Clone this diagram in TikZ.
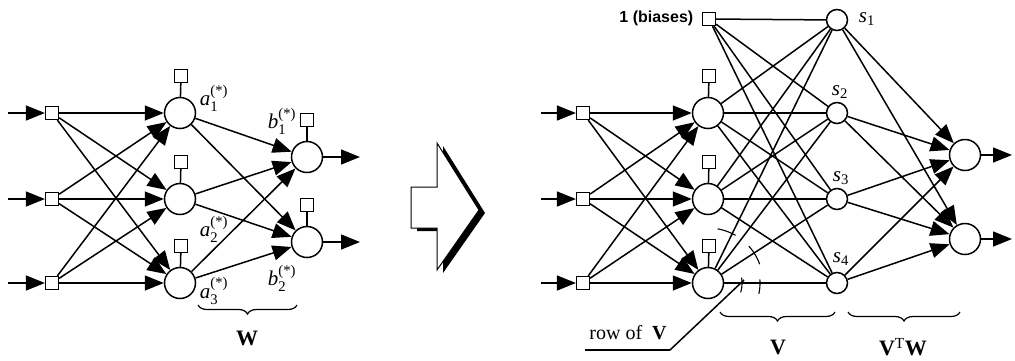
\documentclass[tikz,border=0pt]{standalone}
\usepackage{amsmath}
\usepackage{fontspec}
\setmainfont{Liberation Serif}
\newfontfamily\labsans{Liberation Sans}
\usetikzlibrary{arrows.meta,decorations.pathreplacing}

% weight label: italic letter with index and (*) superscript
\newcommand{\wlab}[2]{\textit{#1}$_{\text{#2}}^{\text{(*)}}$}
\newcommand{\slab}[1]{\textit{s}$_{\text{#1}}$}

\begin{document}
\begin{tikzpicture}[x=1pt,y=-1pt,line width=1.5pt,
  sq/.style={draw,rectangle,minimum size=13pt,inner sep=0pt,fill=white,line width=1.2pt},
  hid/.style={draw,circle,minimum size=31pt,inner sep=0pt,fill=white},
  sn/.style={draw,circle,minimum size=21pt,inner sep=0pt,fill=white},
  arr/.style={-{Triangle[length=19pt,width=15pt]}},
  lab/.style={font=\fontsize{21}{23}\selectfont,inner sep=0pt},
  blab/.style={font=\fontsize{22}{24}\selectfont\bfseries,inner sep=0pt},
  brc/.style={decorate,decoration={brace,amplitude=9pt,mirror},line width=1.2pt}]
\useasboundingbox (0,0) rectangle (1015,360);
\fill[white] (0,0) rectangle (1015,360);

% ---------- original network ----------
\foreach \n/\y in {1/113,2/199,3/283} {
  \coordinate (lin\n) at (8,\y);
  \node[sq] (li\n) at (52,\y) {};
  \node[hid] (lh\n) at (180,\y) {};
  \node[sq] (lhb\n) at (181,\y-37) {};
}
\node[hid] (lo1) at (307,157) {};
\node[hid] (lo2) at (307,242) {};
\node[sq] (lob1) at (307,120) {};
\node[sq] (lob2) at (307,205) {};
\coordinate (lout1) at (360,157);
\coordinate (lout2) at (360,242);

\foreach \i in {1,2,3} {
  \draw[arr] (lin\i) -- (li\i);
  \draw (lhb\i) -- (lh\i);
  \foreach \j in {1,2,3} \draw[arr] (li\i) -- (lh\j);
  \foreach \k in {1,2} \draw[arr] (lh\i) -- (lo\k);
}
\foreach \k in {1,2} {
  \draw (lob\k) -- (lo\k);
  \draw[arr] (lo\k) -- (lout\k);
}

\node[lab] (la1) at (214,98) {\wlab{a}{1}};
\node[lab] (la2) at (214,229) {\wlab{a}{2}};
\node[lab] (la3) at (214,291) {\wlab{a}{3}};
\node[lab] (lb1) at (282,121) {\wlab{b}{1}};
\node[lab] (lb2) at (282,278) {\wlab{b}{2}};

\coordinate (wl) at (198,305);
\coordinate (wr) at (297,305);
\draw[brc] (wl) -- (wr);
\node[blab] (wlabel) at (247,338) {W};

% ---------- block arrow with drop shadow ----------
\fill[black,shift={(6,3)}] (411,187) -- (437,187) -- (437,143) -- (479,210)
  -- (437,270) -- (437,228) -- (411,228) -- cycle;
\draw[fill=white,line width=1pt] (411,187) -- (437,187) -- (437,143) -- (479,210)
  -- (437,270) -- (437,228) -- (411,228) -- cycle;

% ---------- expanded network ----------
\node[sq] (rb) at (709,19) {};
\node[font=\labsans\bfseries\fontsize{16}{18}\selectfont,anchor=east,inner sep=0pt]
  (rblab) at (694,18) {1 (biases)};
\foreach \n/\y in {1/113,2/199,3/283} {
  \coordinate (rin\n) at (541,\y);
  \node[sq] (ri\n) at (583,\y) {};
  \node[hid] (rh\n) at (708,\y) {};
  \node[sq] (rhb\n) at (709,\y-37) {};
}
\foreach \m/\y in {1/20,2/113,3/199,4/283}
  \node[sn] (s\m) at (837,\y) {};
\node[hid] (ro1) at (965,155) {};
\node[hid] (ro2) at (965,239) {};
\coordinate (rout1) at (1012,155);
\coordinate (rout2) at (1012,239);

\foreach \m in {1,2,3,4} {
  \draw (rb) -- (s\m);
  \foreach \k in {1,2} \draw[arr] (s\m) -- (ro\k);
}
\foreach \i in {1,2,3} {
  \draw[arr] (rin\i) -- (ri\i);
  \draw (rhb\i) -- (rh\i);
  \foreach \j in {1,2,3} \draw[arr] (ri\i) -- (rh\j);
  \foreach \m in {1,2,3,4} \draw (rh\i) -- (s\m);
}
\foreach \k in {1,2} \draw[arr] (ro\k) -- (rout\k);

\node[lab] (ls1) at (867,19) {\slab{1}};
\node[lab] (ls2) at (840,92) {\slab{2}};
\node[lab] (ls3) at (841,178) {\slab{3}};
\node[lab] (ls4) at (841,259) {\slab{4}};

% angle marks on the weights leaving the last hidden unit
\begin{scope}[shift={(rh3.center)},line width=1.1pt]
  \draw plot[domain=-80:-60,samples=12] ({55*cos(\x)},{55*sin(\x)});
  \draw plot[domain=-42:-20,samples=12] ({55*cos(\x)},{55*sin(\x)});
  \draw plot[domain=-9:16,samples=12] ({34*cos(\x)},{34*sin(\x)});
  \draw plot[domain=-4:12,samples=12] ({52*cos(\x)},{52*sin(\x)});
\end{scope}

% "row of V" callout
\node[lab,font=\fontsize{20}{22}\selectfont] (rowlab) at (628,333) {row of\ \ \textbf{V}};
\coordinate (ul1) at (585,350);
\coordinate (ul2) at (670,350);
\coordinate (ulend) at (744,280);
\draw[line width=1.8pt] (ul1) -- (ul2);
\draw (ul2) -- (ulend);

\coordinate (vl) at (720,312);
\coordinate (vr) at (835,312);
\draw[brc] (vl) -- (vr);
\node[blab] (vlabel) at (778,347) {V};
\coordinate (tl) at (848,312);
\coordinate (tr) at (960,312);
\draw[brc] (tl) -- (tr);
\node[blab] (vtwlabel) at (903,347) {V\textsuperscript{\mdseries T}W};
\end{tikzpicture}
\end{document}
